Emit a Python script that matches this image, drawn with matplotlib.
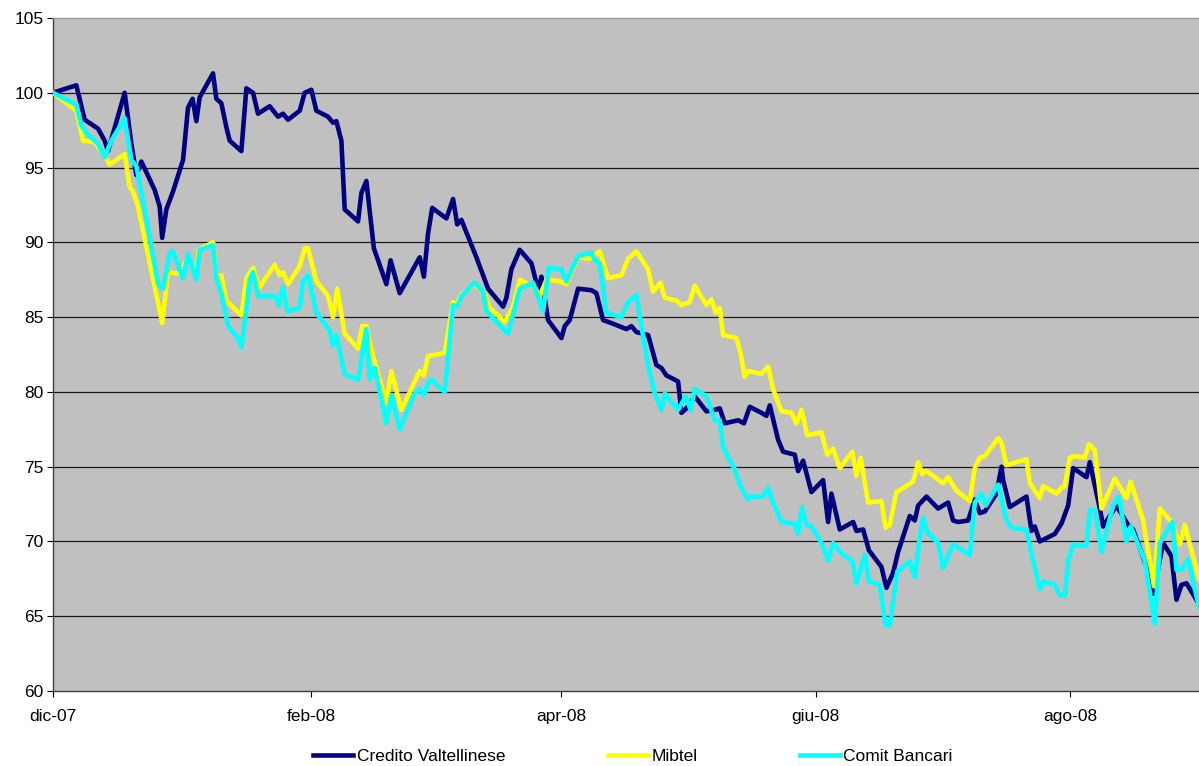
import matplotlib.pyplot as plt

plt.rcParams['font.family'] = ['Liberation Sans', 'DejaVu Sans']

# days since 1 Dec 2007, index values (start = 100)
cv_days = [0.0, 5.6, 7.6, 10.8, 12.4, 13.2, 17.2, 18.8, 20.0, 21.2, 24.4, 25.6, 26.2, 27.2, 28.8,
           31.2, 32.4, 33.5, 34.4, 35.2, 38.4, 39.2, 40.4, 41.6, 42.4, 45.2, 46.4, 48.0, 49.2,
           52.0, 54.0, 55.2, 56.4, 59.2, 60.4, 62.0, 63.2, 66.0, 67.2, 68.0, 69.2, 70.0, 73.2,
           74.0, 75.2, 77.0, 80.0, 81.0, 83.2, 88.0, 89.0, 90.0, 91.0, 94.4, 96.0, 97.0, 98.0,
           101.6, 104.4, 108.0, 108.8, 110.0, 112.0, 114.8, 116.0, 116.6, 117.2, 118.8, 122.0,
           122.8, 124.0, 126.0, 129.2, 130.4, 132.0, 134.0, 137.6, 138.8, 140.0, 142.8, 144.8,
           146.0, 147.2, 150.0, 150.8, 152.0, 154.0, 156.8, 158.8, 160.0, 161.2, 164.4, 165.8,
           167.2, 170.0, 171.2, 172.0, 174.0, 175.2, 178.0, 178.8, 180.0, 182.0, 184.8, 186.0,
           186.8, 188.8, 192.0, 192.8, 194.4, 195.8, 198.8, 200.0, 201.6, 202.8, 205.6, 206.8,
           207.6, 209.6, 212.4, 214.8, 216.0, 217.2, 219.6, 221.2, 222.4, 223.6, 226.4, 227.6,
           228.0, 229.6, 233.6, 234.8, 235.6, 236.8, 240.4, 242.0, 243.6, 244.8, 248.0, 248.8,
           251.2, 252.0, 255.2, 258.0, 259.2, 262.4, 264.0, 266.4, 268.4, 269.6, 270.8, 272.0,
           274.8]
cv_vals = [100.0, 100.5, 98.2, 97.6, 96.8, 96.1, 100.0, 96.6, 94.5, 95.4, 93.5, 92.4, 90.3, 92.2,
           93.4, 95.5, 99.0, 99.6, 98.1, 99.7, 101.3, 99.6, 99.3, 97.7, 96.8, 96.1, 100.3, 100.0,
           98.6, 99.1, 98.4, 98.6, 98.2, 98.8, 100.0, 100.2, 98.8, 98.4, 98.0, 98.1, 96.8, 92.2,
           91.4, 93.3, 94.1, 89.6, 87.2, 88.8, 86.6, 89.0, 87.7, 90.6, 92.3, 91.6, 92.9, 91.2,
           91.5, 89.0, 86.9, 85.7, 86.3, 88.2, 89.5, 88.6, 87.3, 86.9, 87.7, 84.8, 83.6, 84.4,
           84.8, 86.9, 86.8, 86.6, 84.8, 84.6, 84.2, 84.4, 84.0, 83.8, 81.8, 81.6, 81.1, 80.7,
           78.6, 78.9, 79.7, 78.7, 78.8, 78.9, 77.9, 78.1, 77.9, 79.0, 78.6, 78.4, 79.1, 76.8,
           76.0, 75.8, 74.7, 75.4, 73.3, 74.1, 71.3, 73.2, 70.8, 71.3, 70.7, 70.8, 69.4, 68.3,
           66.9, 67.9, 69.3, 71.7, 71.4, 72.4, 73.0, 72.2, 72.6, 71.4, 71.3, 71.4, 72.8, 71.9,
           72.0, 73.2, 75.0, 74.1, 72.3, 73.0, 70.7, 71.0, 70.0, 70.5, 71.2, 72.4, 74.9, 74.3,
           75.3, 72.2, 71.0, 72.4, 71.1, 70.8, 68.3, 66.5, 69.9, 69.0, 66.1, 67.1, 67.2, 65.9]

mib_days = [0.0, 5.6, 7.2, 10.0, 12.4, 13.6, 17.2, 18.4, 19.2, 20.4, 24.4, 26.2, 27.6, 30.4, 32.4,
            34.4, 35.0, 38.4, 39.2, 40.4, 41.6, 45.2, 46.4, 48.0, 49.6, 53.2, 54.4, 55.2, 56.4,
            59.2, 60.4, 61.2, 63.2, 66.0, 67.2, 68.2, 70.0, 73.2, 74.2, 75.2, 76.4, 78.4, 80.0,
            81.2, 83.6, 88.0, 89.0, 90.0, 94.0, 96.0, 96.8, 98.0, 101.2, 103.6, 104.8, 108.4,
            110.4, 112.0, 115.6, 116.8, 118.4, 121.6, 123.2, 126.0, 128.8, 131.2, 133.2, 136.4,
            138.0, 140.0, 142.8, 144.0, 145.8, 146.8, 149.6, 150.8, 152.8, 154.0, 156.8, 158.0,
            159.0, 160.0, 160.8, 164.0, 165.0, 166.0, 166.8, 170.0, 171.6, 172.8, 174.8, 177.2,
            178.4, 179.6, 181.0, 184.4, 185.8, 187.2, 188.8, 191.8, 192.8, 193.8, 195.6, 198.8,
            199.8, 200.8, 202.4, 203.6, 206.4, 207.6, 208.6, 209.6, 213.6, 214.8, 216.8, 220.0,
            221.2, 222.4, 223.6, 226.8, 227.6, 228.8, 233.6, 234.4, 236.8, 237.6, 240.8, 242.0,
            242.8, 244.0, 245.2, 247.6, 248.6, 250.0, 251.6, 254.8, 257.6, 258.6, 261.6, 264.2,
            265.6, 268.4, 270.4, 271.6, 275.0]
mib_vals = [100.0, 98.8, 96.8, 96.7, 95.8, 95.2, 95.9, 93.7, 93.4, 92.4, 87.0, 84.6, 88.0, 87.9,
            89.0, 87.9, 89.5, 90.0, 87.7, 87.8, 86.1, 85.1, 87.6, 88.3, 87.0, 88.5, 87.8, 88.0,
            87.2, 88.4, 89.6, 89.6, 87.4, 86.4, 85.0, 86.9, 83.9, 82.9, 84.4, 84.4, 82.8, 80.8,
            79.3, 81.4, 78.8, 81.4, 81.1, 82.4, 82.6, 86.0, 85.8, 86.5, 87.2, 86.6, 85.6, 84.7,
            85.7, 87.5, 87.0, 86.4, 87.5, 87.4, 87.2, 89.0, 88.9, 89.4, 87.6, 87.8, 88.9, 89.4,
            88.2, 86.7, 87.3, 86.3, 86.1, 85.8, 86.0, 87.1, 85.8, 86.2, 85.3, 85.6, 83.8, 83.6,
            82.6, 81.0, 81.4, 81.2, 81.7, 80.2, 78.7, 78.6, 77.9, 78.8, 77.1, 77.3, 75.8, 76.2,
            74.9, 76.0, 74.4, 75.6, 72.6, 72.7, 70.9, 71.1, 73.3, 73.5, 74.0, 75.3, 74.5, 74.7,
            73.9, 74.3, 73.4, 72.7, 74.9, 75.6, 75.7, 76.9, 76.6, 75.1, 75.5, 73.9, 72.9, 73.7,
            73.2, 73.6, 73.7, 75.6, 75.7, 75.6, 76.5, 76.1, 72.2, 74.2, 72.9, 74.0, 71.4, 67.0,
            72.2, 71.3, 69.8, 71.1, 67.5]

cb_days = [0.0, 5.6, 6.8, 8.4, 10.8, 12.4, 14.0, 17.2, 18.8, 20.0, 22.8, 25.2, 26.4, 28.0, 28.8,
           31.2, 32.4, 34.4, 35.2, 38.4, 39.2, 40.4, 42.0, 44.4, 45.2, 46.0, 47.2, 48.0, 49.2,
           53.2, 54.2, 55.2, 56.2, 59.2, 60.0, 61.2, 63.2, 66.4, 67.2, 68.0, 70.0, 73.2, 75.2,
           76.0, 77.2, 80.0, 81.2, 83.2, 86.8, 88.0, 89.0, 90.0, 90.8, 94.0, 96.0, 97.0, 98.0,
           101.2, 103.2, 104.0, 109.2, 112.0, 115.2, 117.6, 119.0, 122.0, 123.2, 126.0, 129.2,
           130.0, 131.2, 132.8, 136.4, 138.0, 140.0, 141.2, 142.8, 144.4, 146.0, 146.8, 150.0,
           151.8, 153.0, 154.0, 156.8, 158.8, 160.0, 160.8, 163.6, 164.8, 166.8, 167.2, 170.4,
           171.6, 172.8, 174.8, 178.0, 178.8, 179.7, 180.8, 182.0, 184.4, 186.0, 187.2, 189.2,
           191.8, 192.8, 194.8, 195.8, 198.4, 199.8, 200.8, 202.6, 203.2, 205.6, 206.8, 208.0,
           208.8, 209.8, 212.4, 213.6, 216.0, 220.0, 221.2, 222.8, 223.8, 226.8, 228.6, 230.0,
           233.6, 234.8, 236.8, 237.6, 240.4, 241.6, 242.8, 243.6, 244.8, 248.0, 248.8, 250.0,
           251.6, 254.4, 255.8, 257.6, 258.6, 262.0, 264.4, 265.6, 268.6, 269.6, 270.8, 272.4,
           275.0]
cb_vals = [100.0, 99.2, 97.8, 97.2, 96.6, 95.7, 96.8, 98.3, 95.5, 95.1, 91.0, 87.2, 86.9, 89.3,
           89.4, 87.6, 89.2, 87.5, 89.5, 89.8, 87.6, 86.6, 84.4, 83.6, 83.0, 84.6, 87.5, 88.0,
           86.4, 86.4, 85.8, 87.0, 85.4, 85.6, 87.4, 87.8, 85.3, 84.1, 83.1, 83.8, 81.2, 80.8,
           84.2, 80.8, 81.6, 77.9, 79.8, 77.5, 79.9, 80.2, 79.8, 80.6, 80.8, 80.0, 85.8, 85.7,
           86.4, 87.3, 86.7, 85.4, 83.9, 86.9, 87.3, 85.4, 88.3, 88.2, 87.4, 89.1, 89.3, 88.8,
           88.6, 85.3, 85.0, 86.0, 86.5, 84.4, 81.7, 79.9, 78.8, 79.9, 78.8, 79.7, 78.8, 80.2,
           79.7, 78.1, 78.1, 76.3, 74.8, 73.8, 72.8, 73.0, 73.0, 73.6, 72.6, 71.3, 71.2, 70.5,
           72.3, 71.1, 71.0, 69.9, 68.7, 69.9, 69.2, 68.7, 67.2, 69.1, 67.3, 67.1, 64.4, 64.4,
           68.0, 68.1, 68.7, 67.6, 70.3, 71.6, 70.6, 69.9, 68.2, 69.8, 69.1, 72.6, 73.2, 72.4,
           73.8, 71.6, 70.9, 70.8, 69.2, 66.8, 67.3, 67.1, 66.4, 66.4, 68.7, 69.8, 69.7, 72.1,
           72.1, 69.3, 72.4, 73.0, 70.0, 71.0, 68.7, 64.5, 69.9, 71.3, 68.1, 68.1, 68.8, 65.6]

tick_days = [0, 62, 122, 183, 244]
tick_labels = ['dic-07', 'feb-08', 'apr-08', 'giu-08', 'ago-08']

fig = plt.figure(figsize=(11.99, 7.66), dpi=100)
ax = fig.add_axes([53 / 1199, 1 - 691 / 766, 1 - 53 / 1199, (691 - 18) / 766])
ax.set_facecolor('#C0C0C0')

for yv in range(65, 105, 5):
    ax.axhline(yv, color='#1a1a1a', lw=0.9, zorder=1)

ax.plot(cv_days, cv_vals, color='#000080', lw=3.3, label='Credito Valtellinese', zorder=3)
ax.plot(mib_days, mib_vals, color='#FFFF00', lw=3.3, label='Mibtel', zorder=4)
ax.plot(cb_days, cb_vals, color='#00FFFF', lw=3.3, label='Comit Bancari', zorder=5)

ax.set_xlim(0, 275)
ax.set_ylim(60, 105)
ax.set_yticks(range(60, 106, 5))
ax.set_xticks(tick_days)
ax.set_xticklabels(tick_labels)
ax.tick_params(axis='both', labelsize=12.5, colors='black', length=4, width=0.8, direction='out')
ax.tick_params(axis='x', pad=9)
ax.tick_params(axis='y', pad=3)

for s in ['left', 'bottom']:
    ax.spines[s].set_color('#404040')
    ax.spines[s].set_linewidth(1.0)
ax.spines['right'].set_visible(False)
ax.spines['top'].set_color('#999999')
ax.spines['top'].set_linewidth(1.0)

fig.legend(loc='center', bbox_to_anchor=(633 / 1199, 1 - 756 / 766), ncol=3, frameon=False,
           fontsize=12.5, handlelength=2.3, handletextpad=0.2, columnspacing=5.9)

fig.savefig('out.png', dpi=100)
